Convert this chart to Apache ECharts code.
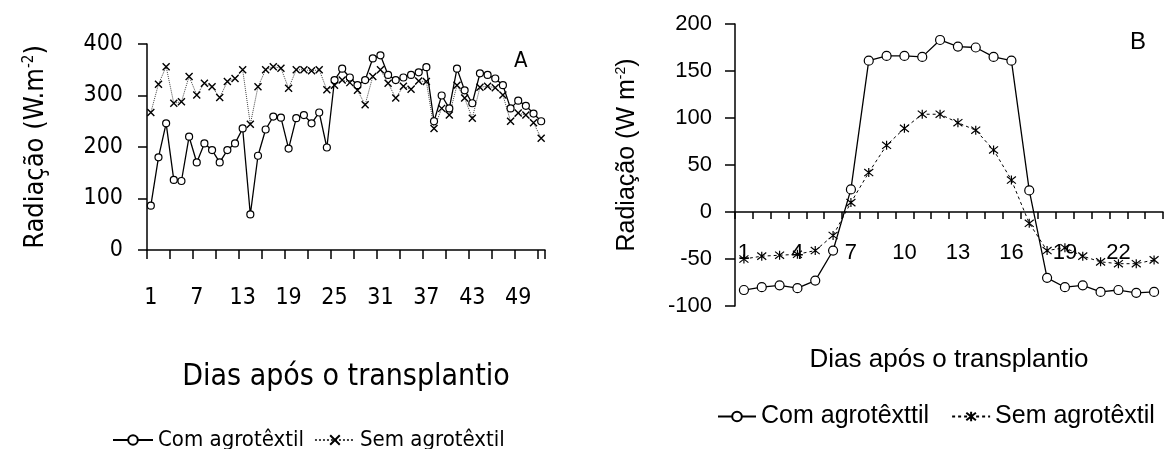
<!DOCTYPE html>
<html>
<head>
<meta charset="utf-8">
<script src="https://cdn.jsdelivr.net/npm/echarts@6/dist/echarts.min.js"></script>
<style>
  html, body { margin: 0; padding: 0; background: #fff; }
  #chart { width: 1170px; height: 449px; }
</style>
</head>
<body>
<div id="chart"></div>
<script>
// painel A - dias após o transplantio
const diasA = ['1','2','3','4','5','6','7','8','9','10','11','12','13','14','15','16','17','18','19','20',
  '21','22','23','24','25','26','27','28','29','30','31','32','33','34','35','36','37','38','39','40',
  '41','42','43','44','45','46','47','48','49','50','51','52'];
const comA = [86, 180, 246, 136, 134, 220, 170, 207, 194, 170, 194, 207, 236, 69, 183, 234, 259, 257, 197, 256,
  262, 246, 267, 199, 330, 352, 335, 320, 330, 372, 378, 340, 330, 335, 340, 345, 355, 250, 300, 275,
  352, 310, 285, 343, 340, 333, 320, 275, 290, 280, 265, 250];
const semA = [267, 322, 356, 285, 288, 337, 301, 324, 317, 296, 327, 333, 350, 244, 317, 350, 356, 353, 314, 350,
  350, 348, 350, 311, 320, 330, 325, 310, 282, 337, 350, 324, 295, 318, 312, 328, 327, 236, 275, 262,
  320, 295, 256, 316, 318, 315, 301, 250, 266, 262, 247, 217];

// painel B
const horasB = ['1','2','3','4','5','6','7','8','9','10','11','12','13','14','15','16','17','18','19','20','21','22','23','24'];
const comB = [-83, -80, -78, -81, -73, -41, 24, 161, 166, 166, 165, 183, 176, 175, 165, 161, 23, -70, -80, -78, -85, -83, -86, -85];
const semB = [-50, -47, -46, -45, -41, -25, 10, 42, 71, 89, 104, 104, 95, 87, 66, 34, -12, -41, -38, -47, -53, -55, -55, -51];

const narrow = "'Liberation Sans Narrow', 'DejaVu Sans Condensed', 'Liberation Sans', sans-serif";
const arial = "'Liberation Sans', Arial, sans-serif";

const xSym = 'path://M0,0L10,10M10,0L0,10';
const starSym = 'path://M0,1L10,9M10,1L0,9M5,0L5,10';

const chart = echarts.init(document.getElementById('chart'));

chart.setOption({
  animation: false,
  backgroundColor: '#fff',
  title: [
    { text: 'A', left: 509, top: 45, textStyle: { fontFamily: narrow, fontSize: 22, fontWeight: 'normal', color: '#000' } },
    { text: 'B', left: 1125, top: 25, textStyle: { fontFamily: arial, fontSize: 24, fontWeight: 'normal', color: '#000' } }
  ],
  legend: [
    {
      data: ['Com agrotêxtil', 'Sem agrotêxtil'],
      left: 107, top: 424, itemWidth: 40, itemHeight: 12, itemGap: 10,
      textStyle: { fontFamily: narrow, fontSize: 22, color: '#000' }
    },
    {
      data: ['Com agrotêxttil', 'Sem agrotêxtil '],
      left: 712, top: 399, itemWidth: 38, itemHeight: 12, itemGap: 22,
      textStyle: { fontFamily: arial, fontSize: 25, color: '#000' }
    }
  ],
  grid: [
    { left: 147, top: 44, width: 398, height: 206, outerBoundsMode: 'none' },
    { left: 735, top: 24, width: 428, height: 282, outerBoundsMode: 'none' }
  ],
  xAxis: [
    {
      type: 'category', gridIndex: 0, data: diasA, boundaryGap: true,
      name: 'Dias após o transplantio', nameLocation: 'middle', nameGap: 112,
      nameTextStyle: { fontFamily: narrow, fontSize: 30, color: '#000' },
      axisLine: { lineStyle: { color: '#000', width: 1.5 } },
      axisTick: { show: true, interval: 2, length: 9, lineStyle: { color: '#000', width: 1.5 } },
      axisLabel: { interval: 5, margin: 37, fontFamily: narrow, fontSize: 23, color: '#000' }
    },
    {
      // eixo desenhado na linha do zero (offset a partir da base da grade)
      type: 'category', gridIndex: 1, data: horasB, boundaryGap: true,
      position: 'bottom', offset: -94,
      name: 'Dias após o transplantio', nameLocation: 'middle', nameGap: 135,
      nameTextStyle: { fontFamily: arial, fontSize: 26, color: '#000' },
      axisLine: { onZero: false, lineStyle: { color: '#000', width: 1.5 } },
      axisTick: { show: true, interval: 0, length: 7, lineStyle: { color: '#000', width: 1.5 } },
      axisLabel: { interval: 2, margin: 30, fontFamily: arial, fontSize: 22, color: '#000' }
    }
  ],
  yAxis: [
    {
      type: 'value', gridIndex: 0, min: 0, max: 400, interval: 100,
      name: 'Radiação (W.m{sup|-2})', nameLocation: 'middle', nameGap: 98,
      nameTextStyle: {
        fontFamily: narrow, fontSize: 27, color: '#000',
        rich: { sup: { fontFamily: narrow, fontSize: 15, verticalAlign: 'top', padding: [0, 0, 12, 0] } }
      },
      axisLine: { show: true, lineStyle: { color: '#000', width: 1.5 } },
      axisTick: { show: true, length: 9, lineStyle: { color: '#000', width: 1.5 } },
      axisLabel: { margin: 24, fontFamily: narrow, fontSize: 23, color: '#000' },
      splitLine: { show: false }
    },
    {
      type: 'value', gridIndex: 1, min: -100, max: 200, interval: 50,
      name: 'Radiação (W m{sup|-2})', nameLocation: 'middle', nameGap: 95,
      nameTextStyle: {
        fontFamily: arial, fontSize: 25, color: '#000', padding: [0, 0, 0, 20],
        rich: { sup: { fontFamily: arial, fontSize: 14, verticalAlign: 'top', padding: [0, 0, 12, 0] } }
      },
      axisLine: { show: true, lineStyle: { color: '#000', width: 1.5 } },
      axisTick: { show: true, length: 10, lineStyle: { color: '#000', width: 1.5 } },
      axisLabel: { margin: 23, fontFamily: arial, fontSize: 22, color: '#000' },
      splitLine: { show: false }
    }
  ],
  series: [
    {
      name: 'Com agrotêxtil', type: 'line', xAxisIndex: 0, yAxisIndex: 0, data: comA,
      symbol: 'circle', symbolSize: 7, showAllSymbol: true,
      lineStyle: { color: '#000', width: 1.3 },
      itemStyle: { color: '#fff', borderColor: '#000', borderWidth: 1.2 }
    },
    {
      name: 'Sem agrotêxtil', type: 'line', xAxisIndex: 0, yAxisIndex: 0, data: semA,
      symbol: xSym, symbolSize: 7, showAllSymbol: true,
      lineStyle: { color: '#444', width: 1, type: 'dotted' },
      itemStyle: { color: '#000', borderColor: '#000', borderWidth: 1.4 }
    },
    {
      name: 'Com agrotêxttil', type: 'line', xAxisIndex: 1, yAxisIndex: 1, data: comB,
      symbol: 'circle', symbolSize: 9, showAllSymbol: true,
      lineStyle: { color: '#000', width: 1.3 },
      itemStyle: { color: '#fff', borderColor: '#000', borderWidth: 1.2 }
    },
    {
      name: 'Sem agrotêxtil ', type: 'line', xAxisIndex: 1, yAxisIndex: 1, data: semB,
      symbol: starSym, symbolSize: 9, showAllSymbol: true,
      lineStyle: { color: '#000', width: 1, type: [3, 3] },
      itemStyle: { color: '#000', borderColor: '#000', borderWidth: 1.2 }
    }
  ]
});
</script>
</body>
</html>
